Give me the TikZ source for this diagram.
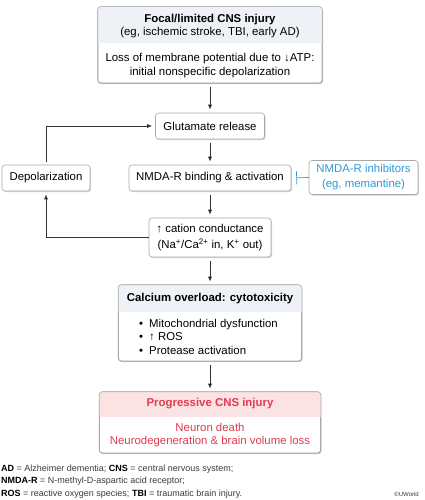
\documentclass[tikz,border=0pt]{standalone}
\usepackage{fontspec}
\setmainfont{Liberation Sans}
\usepackage{tikz}
\usetikzlibrary{positioning, arrows.meta, shadows}

\definecolor{hdrblue}{HTML}{EEF1F6}
\definecolor{hdrpink}{HTML}{FCE3E3}
\definecolor{txtred}{HTML}{E23A4F}
\definecolor{txtblue}{HTML}{2E9AD6}
\definecolor{edgegray}{HTML}{A8A8A8}
\definecolor{notegray}{HTML}{3A3A3A}

\tikzset{
	box/.style={draw=edgegray, line width=0.6pt, fill=white, rounded corners=3pt, inner sep=0pt,
		drop shadow={shadow xshift=1pt, shadow yshift=-1.2pt, opacity=0.35}},
	lbl/.style={align=center, inner sep=0pt, font=\fontsize{11.4}{13.5}\selectfont},
	flow/.style={-{Latex[length=5pt,width=4pt]}, line width=0.7pt, draw=black!80, shorten <=4pt, shorten >=3pt},
	block/.style={-{Bar[width=13pt]}, line width=0.7pt, draw=txtblue, shorten >=5pt}
}

\begin{document}
\begin{tikzpicture}[x=1pt, y=-1pt]
	\useasboundingbox (0,0) rectangle (424,500);
	
	% boxes
	\node[box, minimum width=224pt, minimum height=76pt] (inj) at (210,45) {};
	\node[box, minimum width=109pt, minimum height=26pt] (glu) at (210,126) {};
	\node[box, minimum width=162pt, minimum height=26pt] (nmda) at (210,178) {};
	\node[box, minimum width=88pt, minimum height=26pt] (dep) at (46,178) {};
	\node[box, minimum width=109pt, minimum height=34pt] (inh) at (363.5,177.5) {};
	\node[box, minimum width=122pt, minimum height=39pt] (cat) at (210,237.5) {};
	\node[box, minimum width=183pt, minimum height=76pt] (cal) at (210,323) {};
	\node[box, minimum width=221pt, minimum height=61pt] (prog) at (210,422.5) {};
	
	% header bands
	\foreach \b/\c/\y in {inj/hdrblue/43, cal/hdrblue/312, prog/hdrpink/417} {
		\begin{scope}
			\clip[rounded corners=3pt] (\b.north west) rectangle (\b.south east);
			\fill[\c] (\b.north west) rectangle (\b.east |- 0,\y);
		\end{scope}
		\draw[edgegray, line width=0.6pt, rounded corners=3pt] (\b.north west) rectangle (\b.south east);
	}
	
	% texts
	\node[lbl] (injhd) at (210,26) {\textbf{Focal/limited CNS injury}\\(eg, ischemic stroke, TBI, early AD)};
	\node[lbl] (injbd) at (210,65.5) {Loss of membrane potential due to ↓ATP:\\initial nonspecific depolarization};
	\node[lbl] (glutxt) at (glu) {Glutamate release};
	\node[lbl] (nmdatxt) at (nmda) {NMDA-R binding \& activation};
	\node[lbl] (deptxt) at (dep) {Depolarization};
	\node[lbl, text=txtblue, font=\fontsize{11.4}{15}\selectfont] (inhtxt) at (inh) {NMDA-R inhibitors\\(eg, memantine)};
	\node[lbl, font=\fontsize{11.4}{16}\selectfont] (cattxt) at (cat) {↑ cation conductance\\(Na\textsuperscript{+}/Ca\textsuperscript{2+} in, K\textsuperscript{+} out)};
	\node[lbl] (calhd) at (210,298.5) {\textbf{Calcium overload: cytotoxicity}};
	\node[lbl, align=left, anchor=west] (calbd) at (139,336.5) {\makebox[10pt][l]{•}Mitochondrial dysfunction\\\makebox[10pt][l]{•}↑ ROS\\\makebox[10pt][l]{•}Protease activation};
	\node[lbl, text=txtred] (proghd) at (210,404) {\textbf{Progressive CNS injury}};
	\node[lbl, text=txtred] (progbd) at (210,435) {Neuron death\\Neurodegeneration \& brain volume loss};
	
	% arrows
	\path[flow]
	(inj) edge (glu)
	(glu) edge (nmda)
	(nmda) edge (cat)
	(cat) edge (cal)
	(cal) edge (prog);
	
	\draw[flow, shorten <=0pt] (cat.west) -| (dep.south);
	\draw[flow, shorten <=3pt] (dep.north) |- (glu.west);
	\draw[block] (inh.west) -- (nmda.east);
	
	% footnote
	\node[anchor=west, align=left, inner sep=0pt, text=notegray, font=\fontsize{9}{12.5}\selectfont] (abbr) at (1,481.5)
	{\textbf{\color{black}AD} = Alzheimer dementia; \textbf{\color{black}CNS} = central nervous system;\\
		\textbf{\color{black}NMDA-R} = N-methyl-D-aspartic acid receptor;\\
		\textbf{\color{black}ROS} = reactive oxygen species; \textbf{\color{black}TBI} = traumatic brain injury.};
	\node[anchor=east, inner sep=0pt, text=notegray, font=\fontsize{6}{7}\selectfont] (uw) at (419,494) {©UWorld};
\end{tikzpicture}
\end{document}
